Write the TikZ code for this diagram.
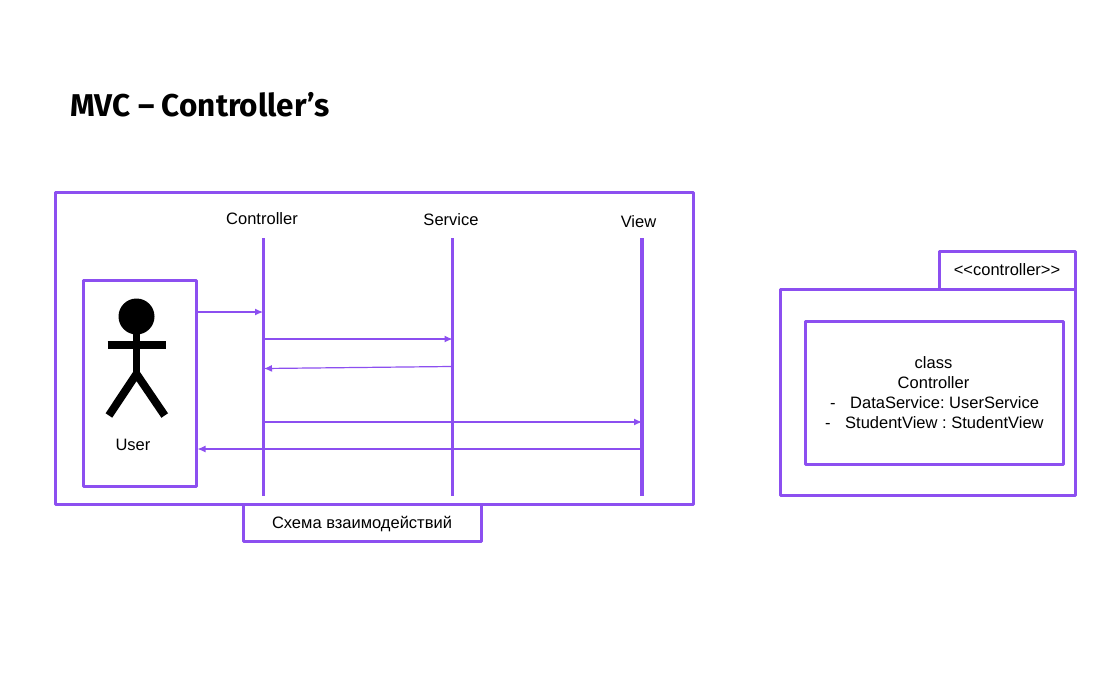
\documentclass[tikz,border=0pt]{standalone}
\usepackage{fontspec}
\setmainfont{Liberation Sans}
\newfontfamily\titlefont{Fira Sans}
\usetikzlibrary{arrows.meta}
\definecolor{vio}{HTML}{8C4FF0}
\tikzset{
  box/.style={draw=vio,line width=3pt,line join=round,fill=none,inner sep=0pt,rectangle},
  lifeline/.style={draw=vio,line width=3.3pt},
  msg/.style={draw=vio,line width=1.2pt,-{Latex[length=8pt,width=7pt]}},
  lbl/.style={font=\frenchspacing\fontsize{16.5}{20}\selectfont,inner sep=0pt,text=black},
  limb/.style={draw=black,line width=7.6pt}
}
\begin{document}
\begin{tikzpicture}[x=1pt,y=-1pt]
\useasboundingbox[fill=white] (0,0) rectangle (1106,673);
\node[anchor=base west,inner sep=0pt,font=\titlefont\bfseries\fontsize{31.5}{34}\selectfont] (title) at (70,116) {MVC – Controller’s};
% frames
\node[box,minimum width=638pt,minimum height=312pt] (frame) at (374,348) {};
\node[box,minimum width=113pt,minimum height=206pt] (userbox) at (139.5,383) {};
\node[box,lbl,text height=12pt,text depth=0pt,minimum width=238pt,minimum height=37pt] (caption) at (362,522.5) {Схема взаимодействий};
% lifelines
\coordinate (cT) at (263.5,238); \coordinate (cB) at (263.5,496);
\coordinate (sT) at (452.5,238); \coordinate (sB) at (452.5,496);
\coordinate (vT) at (642,238);   \coordinate (vB) at (642,496);
\draw[lifeline] (cT) -- (cB);
\draw[lifeline] (sT) -- (sB);
\draw[lifeline] (vT) -- (vB);
\node[lbl] (lc) at (262,218.5) {Controller};
\node[lbl] (ls) at (451,219.5) {Service};
\node[lbl] (lv) at (638.5,221.5) {View};
% messages
\coordinate (m1a) at (197.5,312); \coordinate (m1b) at (263,312);
\coordinate (m2a) at (265,339);   \coordinate (m2b) at (452.5,339);
\coordinate (m3a) at (451,366.5); \coordinate (m3b) at (264,368.5);
\coordinate (m4a) at (265,422);   \coordinate (m4b) at (642,422);
\coordinate (m5a) at (640.5,449); \coordinate (m5b) at (197.5,449);
\draw[msg] (m1a) -- (m1b);
\draw[msg] (m2a) -- (m2b);
\draw[msg] (m3a) -- (m3b);
\draw[msg] (m4a) -- (m4b);
\draw[msg] (m5a) -- (m5b);
% actor
\fill[black] (136.5,316.5) circle (18);
\draw[limb] (136.5,330) -- (136.5,372);
\draw[limb] (107.5,345) -- (165.5,345);
\draw[limb,line width=8pt,line join=miter] (108.9,415.5) -- (136.5,374) -- (164.7,415.5);
\node[lbl] (user) at (133,445) {User};
% package
\node[box,lbl,minimum width=136pt,minimum height=38pt] (tab) at (1007,270) {<{}<controller>{}>};
\node[box,minimum width=295pt,minimum height=206pt] (pkg) at (927.5,392) {};
\node[box,minimum width=258pt,minimum height=143pt] (cls) at (934,392.5) {};
\node[lbl] (c1) at (933.5,362.5) {class};
\node[lbl] (c2) at (933.5,382.5) {Controller};
\node[lbl,anchor=base west] (c3d) at (830,408) {-};
\node[lbl,anchor=base west] (c3) at (850,408) {DataService: UserService};
\node[lbl,anchor=base west] (c4d) at (825,428) {-};
\node[lbl,anchor=base west] (c4) at (845,428) {StudentView : StudentView};
\end{tikzpicture}
\end{document}
